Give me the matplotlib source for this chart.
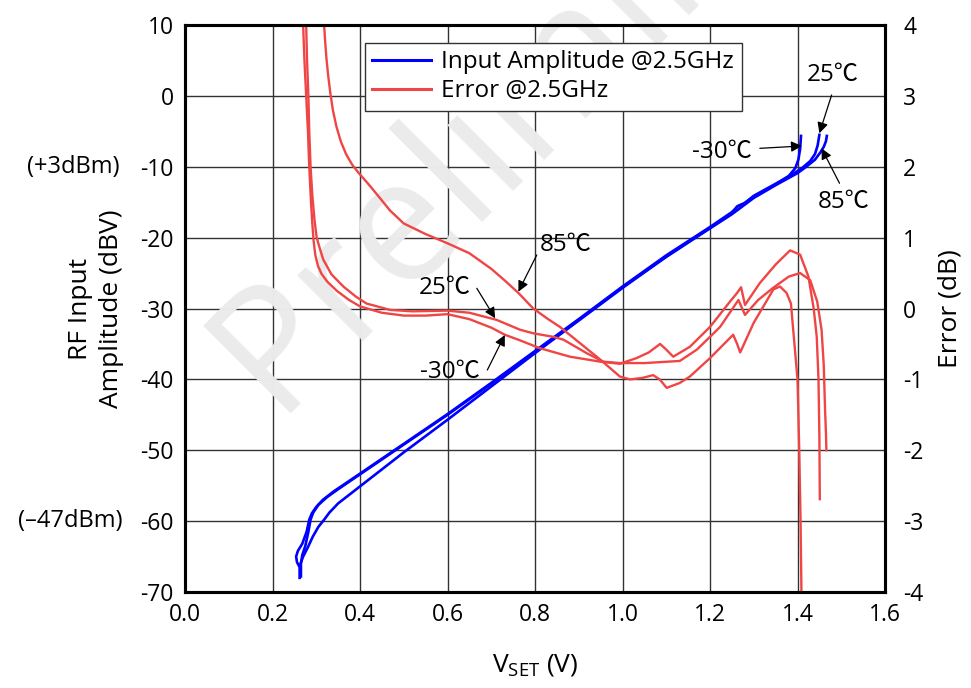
import matplotlib
matplotlib.use("Agg")
import matplotlib.pyplot as plt
import numpy as np

plt.rcParams['font.family'] = ['Open Sans', 'Noto Sans CJK SC', 'DejaVu Sans']
plt.rcParams['axes.unicode_minus'] = False

# input amplitude (dBV) vs VSET
amp_m30_x = [0.265, 0.265, 0.268, 0.275, 0.282, 0.287, 0.293, 0.305, 0.325, 0.350, 0.400, 0.500, 0.600, 0.700, 0.800,
             0.900, 1.000, 1.100, 1.200, 1.250, 1.262, 1.275, 1.300, 1.350, 1.380, 1.395, 1.402, 1.406, 1.408]
amp_m30_y = [-67.8, -66.0, -64.8, -63.5, -61.5, -59.8, -58.8, -57.7, -56.6, -55.5, -53.4, -49.2, -45.0, -40.6, -36.1,
             -31.6, -27.0, -22.7, -18.6, -16.6, -15.6, -15.3, -14.2, -12.5, -11.3, -10.2, -9.0, -7.5, -5.65]
amp_25_x = [0.262, 0.262, 0.256, 0.254, 0.258, 0.268, 0.278, 0.284, 0.290, 0.300, 0.315, 0.340, 0.400, 0.500, 0.600,
            0.700, 0.800, 0.900, 1.000, 1.100, 1.200, 1.250, 1.265, 1.280, 1.300, 1.350, 1.390, 1.410, 1.429, 1.440,
            1.446, 1.450]
amp_25_y = [-68.0, -66.5, -65.8, -65.0, -64.2, -63.2, -61.5, -59.8, -58.9, -58.0, -57.0, -55.8, -53.3, -49.1, -44.9,
            -40.5, -36.0, -31.5, -26.9, -22.5, -18.5, -16.4, -15.5, -15.1, -14.1, -12.4, -11.0, -10.2, -9.2, -8.2,
            -7.0, -5.5]
amp_85_x = [0.264, 0.270, 0.280, 0.292, 0.305, 0.318, 0.330, 0.350, 0.400, 0.500, 0.600, 0.700, 0.800, 0.900, 1.000,
            1.100, 1.200, 1.250, 1.300, 1.350, 1.400, 1.420, 1.440, 1.452, 1.460, 1.465, 1.467]
amp_85_y = [-66.0, -65.0, -63.8, -62.2, -60.8, -59.8, -58.8, -57.5, -55.1, -50.3, -45.7, -41.0, -36.3, -31.7, -27.1,
            -22.7, -18.7, -16.7, -14.4, -12.6, -10.9, -10.0, -9.0, -8.0, -7.2, -6.4, -5.65]

# error (dB) vs VSET
err_m30_x = [0.270, 0.273, 0.277, 0.281, 0.284, 0.288, 0.291, 0.294, 0.298, 0.304, 0.312, 0.325, 0.347, 0.375, 0.400,
             0.450, 0.500, 0.550, 0.600, 0.650, 0.700, 0.731, 0.766, 0.811, 0.880, 0.949, 0.994, 1.032, 1.060, 1.086,
             1.100, 1.116, 1.154, 1.200, 1.246, 1.262, 1.271, 1.280, 1.314, 1.350, 1.383, 1.406, 1.425, 1.437, 1.444,
             1.448, 1.450, 1.451]
err_m30_y = [4.0, 3.5, 3.0, 2.5, 2.0, 1.5, 1.2, 0.95, 0.75, 0.6, 0.49, 0.38, 0.25, 0.12, 0.03,
             -0.06, -0.10, -0.10, -0.08, -0.15, -0.27, -0.37, -0.45, -0.56, -0.68, -0.75, -0.78, -0.70, -0.62, -0.50,
             -0.58, -0.68, -0.54, -0.26, 0.10, 0.22, 0.30, 0.05, 0.36, 0.62, 0.82, 0.76, 0.45, 0.0, -0.40,
             -1.0, -1.8, -2.69]
err_25_x = [0.277, 0.279, 0.282, 0.284, 0.287, 0.291, 0.296, 0.301, 0.308, 0.316, 0.335, 0.362, 0.390, 0.415, 0.469,
            0.520, 0.600, 0.650, 0.712, 0.766, 0.796, 0.842, 0.865, 0.918, 0.956, 0.994, 1.050, 1.131, 1.170, 1.200,
            1.223, 1.265, 1.280, 1.310, 1.344, 1.380, 1.406, 1.429, 1.445, 1.455, 1.460, 1.463, 1.465, 1.466]
err_25_y = [4.0, 3.5, 3.0, 2.5, 2.0, 1.6, 1.25, 1.0, 0.85, 0.69, 0.48, 0.31, 0.17, 0.07, -0.02,
            -0.04, -0.03, -0.06, -0.16, -0.30, -0.35, -0.40, -0.44, -0.63, -0.75, -0.77, -0.77, -0.74, -0.58, -0.40,
            -0.26, 0.12, -0.09, 0.12, 0.29, 0.45, 0.50, 0.40, 0.10, -0.30, -0.80, -1.43, -1.75, -2.0]
err_85_x = [0.318, 0.320, 0.323, 0.327, 0.332, 0.338, 0.346, 0.356, 0.368, 0.382, 0.396, 0.420, 0.440, 0.469, 0.500,
            0.550, 0.600, 0.650, 0.700, 0.730, 0.762, 0.796, 0.830, 0.857, 0.903, 0.949, 0.994, 1.017, 1.045, 1.070,
            1.085, 1.101, 1.131, 1.154, 1.200, 1.253, 1.262, 1.269, 1.300, 1.345, 1.360, 1.375, 1.385, 1.393, 1.400,
            1.404, 1.407, 1.409]
err_85_y = [4.0, 3.8, 3.55, 3.3, 3.05, 2.8, 2.57, 2.36, 2.18, 2.03, 1.92, 1.75, 1.6, 1.38, 1.2,
            1.05, 0.92, 0.78, 0.56, 0.40, 0.22, 0.0, -0.15, -0.26, -0.49, -0.72, -0.96, -1.0, -0.98, -0.94,
            -1.0, -1.12, -1.05, -0.96, -0.70, -0.37, -0.50, -0.62, -0.20, 0.27, 0.31, 0.22, 0.07, -0.5, -1.0,
            -2.0, -3.0, -4.0]

x_ticks = [0.0, 0.2, 0.4, 0.6, 0.8, 1.0, 1.2, 1.4, 1.6]
left_ticks = [10, 0, -10, -20, -30, -40, -50, -60, -70]
right_ticks = [4, 3, 2, 1, 0, -1, -2, -3, -4]

blue = '#0000ff'
red = '#f04545'

fig = plt.figure(figsize=(9.71, 6.88), dpi=100)
ax = fig.add_axes([185/971, 1-592/688, 700/971, 567/688])
ax2 = ax.twinx()

# watermark
ax.text(0.55, 0.95, 'Preliminary', transform=ax.transAxes, fontsize=125, color='#ebebeb',
        rotation=45, ha='center', va='center', zorder=1, clip_on=False)

ax.plot(amp_m30_x, amp_m30_y, color=blue, lw=1.9, zorder=3)
ax.plot(amp_25_x, amp_25_y, color=blue, lw=1.9, zorder=3)
ax.plot(amp_85_x, amp_85_y, color=blue, lw=1.9, zorder=3)

ax2.plot(err_m30_x, err_m30_y, color=red, lw=1.7)
ax2.plot(err_25_x, err_25_y, color=red, lw=1.7)
ax2.plot(err_85_x, err_85_y, color=red, lw=1.7)

ax.set_xlim(0, 1.6)
ax.set_ylim(-70, 10)
ax2.set_ylim(-4, 4)
ax.set_xticks(x_ticks)
ax.set_xticklabels(['%.1f' % v for v in x_ticks])
ax.set_yticks(left_ticks)
ax2.set_yticks(right_ticks)
ax.grid(True, color='#333333', lw=1.0)
ax.set_axisbelow(True)
ax.tick_params(length=0, labelsize=16.5, pad=8)
ax2.tick_params(length=0, labelsize=16.5, pad=13)
for a in (ax, ax2):
    for s in a.spines.values():
        s.set_linewidth(2.2)
        s.set_color('black')

ax.set_xlabel(r'$\mathregular{V_{SET}}$ (V)', fontsize=19, labelpad=18)
ax.set_ylabel('RF Input\nAmplitude (dBV)', fontsize=19, labelpad=12, linespacing=1.3)
ax2.set_ylabel('Error (dB)', fontsize=19, labelpad=10)

ax.text(-0.093, -10, '(+3dBm)', transform=ax.get_yaxis_transform(), ha='right', va='center', fontsize=17)
ax.text(-0.089, -60, '(\u201347dBm)', transform=ax.get_yaxis_transform(), ha='right', va='center', fontsize=17)

arrow = dict(arrowstyle='-|>', color='black', lw=0.9, mutation_scale=16, shrinkA=0, shrinkB=0)
ax.annotate('', xy=(1.450, -5.28), xytext=(1.478, 0.12), arrowprops=arrow)
ax.text(1.481, 2.95, '25\u2103', fontsize=17.5, ha='center', va='center')
ax.annotate('', xy=(1.41, -7.07), xytext=(1.314, -7.4), arrowprops=arrow)
ax.text(1.227, -7.88, '-30\u2103', fontsize=17.5, ha='center', va='center')
ax.annotate('', xy=(1.455, -7.4), xytext=(1.496, -12.33), arrowprops=arrow)
ax.text(1.505, -14.93, '85\u2103', fontsize=17.5, ha='center', va='center')

ax2.annotate('', xy=(0.762, 0.237), xytext=(0.804, 0.755), arrowprops=arrow)
ax2.text(0.869, 0.896, '85\u2103', fontsize=17.5, ha='center', va='center')
ax2.annotate('', xy=(0.709, -0.138), xytext=(0.667, 0.285), arrowprops=arrow)
ax2.text(0.594, 0.285, '25\u2103', fontsize=17.5, ha='center', va='center')
ax2.annotate('', xy=(0.731, -0.374), xytext=(0.691, -0.868), arrowprops=arrow)
ax2.text(0.606, -0.892, '-30\u2103', fontsize=17.5, ha='center', va='center')

h1, = ax.plot([], [], color=blue, lw=2.2, label='Input Amplitude @2.5GHz')
h2, = ax.plot([], [], color=red, lw=2.2, label='Error @2.5GHz')
leg = ax2.legend(handles=[h1, h2], loc='upper left', bbox_to_anchor=(0.257, 0.968), fontsize=17.5,
                 fancybox=False, edgecolor='#333333', framealpha=1, borderpad=0.3, handlelength=2.4,
                 handletextpad=0.45, labelspacing=0.2, borderaxespad=0)
leg.get_frame().set_linewidth(1.0)

fig.savefig('out.png', dpi=100)
